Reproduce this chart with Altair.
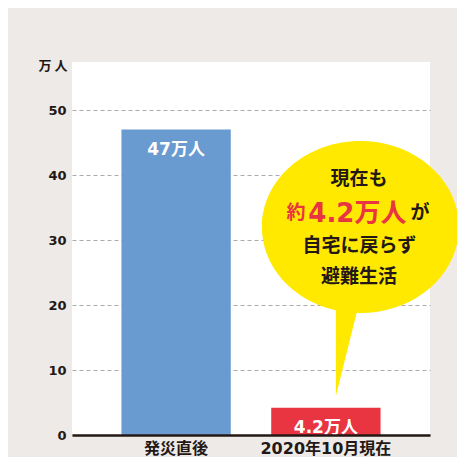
import altair as alt
import pandas as pd

# ---- data ----
categories = ["発災直後", "2020年10月現在"]
values = [47, 4.2]
bar_labels = ["47万人", "4.2万人"]
bar_colors = ["#6a9bd0", "#e83541"]
y_ticks = [0, 10, 20, 30, 40, 50]
y_unit = "万 人"

bubble_category = "2020年10月現在"
bubble_value = 32.0
bubble_line1 = "現在も"
bubble_line2 = ["約", "4.2万人", "が"]
bubble_line3 = "自宅に戻らず"
bubble_line4 = "避難生活"

DARK = "#231815"
RED = "#e83541"
YELLOW = "#ffe900"
LATIN_FONT = "DejaVu Sans, Noto Sans CJK JP"
JP_FONT = "Noto Sans CJK JP"

bars_df = pd.DataFrame({"category": categories, "value": values, "label": bar_labels})
bubble_df = pd.DataFrame({"category": [bubble_category], "value": [bubble_value]})

x_enc = alt.X(
    "category:N",
    sort=categories,
    scale=alt.Scale(paddingInner=0.27, paddingOuter=0.33),
    axis=alt.Axis(
        title=None, labelAngle=0, ticks=False, tickSize=0, grid=False,
        domainColor=DARK, domainWidth=2.6, labelFont=LATIN_FONT, labelFontSize=16,
        labelFontWeight="bold", labelColor=DARK, labelPadding=5, zindex=1,
    ),
)
y_enc = alt.Y(
    "value:Q",
    scale=alt.Scale(domain=[0, 57.4], nice=False),
    axis=alt.Axis(
        values=y_ticks, title=y_unit, titleAngle=0, titleAlign="right",
        titleBaseline="middle", titleX=-5, titleY=3.5, titleFont=JP_FONT,
        titleFontSize=13, titleFontWeight="bold", titleColor=DARK,
        ticks=False, tickSize=0, domain=False, grid=True, gridColor="#aaaaaa",
        gridDash=[4, 3], gridWidth=1.2, labelFont=LATIN_FONT, labelFontSize=13,
        labelFontWeight="bold", labelColor=DARK, labelPadding=6,
    ),
)

bars = alt.Chart(bars_df).mark_bar().encode(
    x=x_enc,
    y=y_enc,
    color=alt.Color("category:N", sort=categories,
                    scale=alt.Scale(domain=categories, range=bar_colors), legend=None),
)

bar_text = alt.Chart(bars_df).mark_text(
    color="white", font=LATIN_FONT, fontSize=17, fontWeight="bold",
    baseline="middle", dy=20,
).encode(x=x_enc, y=y_enc, text="label:N")

ellipse_path = ("M -1 0 A 1 0.873 0 1 1 1 0 A 1 0.873 0 1 1 -1 0 Z "
                "M -0.249 0.75 L -0.008 0.75 L -0.249 1.716 Z")
bubble = alt.Chart(bubble_df).mark_point(
    shape=ellipse_path, size=38809, filled=True, color=YELLOW, opacity=1,
    strokeWidth=0, xOffset=34.5,
).encode(x=x_enc, y=y_enc)


def bubble_text(txt, dx, dy, size, color, font):
    return alt.Chart(bubble_df).mark_text(
        text=txt, dx=dx, dy=dy, fontSize=size, color=color, font=font,
        fontWeight="bold", baseline="middle", align="center",
    ).encode(x=x_enc, y=y_enc)


t1 = bubble_text(bubble_line1, 33, -48.5, 19, DARK, JP_FONT)
t2a = bubble_text(bubble_line2[0], -30, -14, 19, RED, JP_FONT)
t2b = bubble_text(bubble_line2[1], 31.5, -13.4, 26, RED, LATIN_FONT)
t2c = bubble_text(bubble_line2[2], 94, -14, 19, DARK, JP_FONT)
t3 = bubble_text(bubble_line3, 33.5, 18.5, 19, DARK, JP_FONT)
t4 = bubble_text(bubble_line4, 33, 49.5, 19, DARK, JP_FONT)

chart = alt.layer(bars, bar_text, bubble, t1, t2a, t2b, t2c, t3, t4).properties(
    width=358,
    height=373,
    autosize=alt.AutoSizeParams(type="none"),
    padding={"left": 64, "top": 54, "right": 27, "bottom": 22},
    background="#eeeae7",
).configure_view(fill="white", stroke=None)

chart.save("out.html", embed_options={"renderer": "svg", "actions": False})
